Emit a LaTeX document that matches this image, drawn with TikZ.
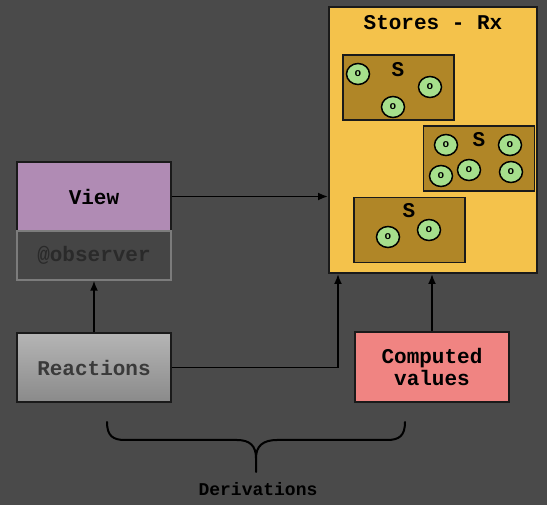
\documentclass[tikz,border=0pt]{standalone}
\usepackage{fontspec}
\setmonofont{Liberation Mono}
\usetikzlibrary{arrows.meta,calc,shapes.geometric}
\definecolor{bg}{HTML}{4A4A4A}
\definecolor{storesfill}{HTML}{F4C24B}
\definecolor{storefill}{HTML}{B08627}
\definecolor{obsfill}{HTML}{A6DF8C}
\definecolor{viewfill}{HTML}{B08BB4}
\definecolor{compfill}{HTML}{F08482}
\definecolor{observfill}{HTML}{454545}
\definecolor{observline}{HTML}{7C7C7C}
\definecolor{observtext}{HTML}{2A2A2A}
\definecolor{reacttext}{HTML}{3A3A3A}
\definecolor{reacttop}{HTML}{B5B5B5}
\definecolor{reactbot}{HTML}{8A8A8A}
\definecolor{edge}{HTML}{1A1A1A}
\begin{document}
\begin{tikzpicture}[x=1pt,y=-1pt,
  lbl/.style={font=\ttfamily\bfseries\fontsize{21}{23}\selectfont},
  box/.style={draw=edge, line width=1.4pt, inner sep=0pt, lbl, align=center},
  storebox/.style={draw=edge, line width=1.4pt, fill=storefill, minimum width=111pt, minimum height=65pt, inner sep=0pt},
  obs/.style={ellipse, draw=black, line width=1.5pt, fill=obsfill, minimum width=23pt, minimum height=21pt, inner sep=0pt, font=\ttfamily\bfseries\fontsize{11}{12}\selectfont},
  conn/.style={draw=black, line width=1.8pt, -{Latex[length=10pt,width=8pt]}}
]
\useasboundingbox[fill=bg] (0,0) rectangle (547,505);

% Stores
\node[box, fill=storesfill, line width=2pt, minimum width=208pt, minimum height=266pt] (stores) at (433,140) {};
\node[lbl] (storestitle) at (433,23) {Stores - Rx};

\node[storebox] (s1) at (398.5,87.5) {};
\node[storebox] (s2) at (479,158.5) {};
\node[storebox] (s3) at (409.5,230) {};
\node[lbl] (s1l) at (398,70) {S};
\node[lbl] (s2l) at (479,140) {S};
\node[lbl] (s3l) at (409,211) {S};

\node[obs] (o11) at (358,74) {o};
\node[obs] (o12) at (430,87) {o};
\node[obs] (o13) at (393,107) {o};
\node[obs] (o21) at (446,145) {o};
\node[obs] (o22) at (510,145) {o};
\node[obs] (o23) at (441,176) {o};
\node[obs] (o24) at (469,170) {o};
\node[obs] (o25) at (511,172) {o};
\node[obs] (o31) at (388,237) {o};
\node[obs] (o32) at (429,230) {o};

% Left column
\node[box, fill=viewfill, minimum width=154pt, minimum height=69pt] (view) at (94,196.5) {View};
\node[box, draw=observline, fill=observfill, text=observtext, minimum width=154pt, minimum height=49pt] (observer) at (94,255.5) {@observer};
\node[box, draw=edge, top color=reacttop, bottom color=reactbot, text=reacttext, minimum width=154pt, minimum height=69pt] (reactions) at (94,367.5) {Reactions};

% Computed values
\node[box, fill=compfill, minimum width=154pt, minimum height=70pt] (computed) at (432,367) {Computed\\[-1pt]values};

% Connectors
\coordinate (bend) at (338,367.5);
\draw[conn] (reactions.north) -- (observer.south);
\draw[conn] (view.east) -- (stores.west |- view.east);
\draw[conn] (reactions.east) -- (bend) -- (bend |- stores.south);
\draw[conn] (computed.north) -- (computed.north |- stores.south);

% Brace
\draw[black, line width=2pt, line cap=round, line join=round]
  (107,422) .. controls (107,436) and (113,440) .. (125,440) -- (237,440)
  .. controls (250,440) and (256,446) .. (256,458) -- (256,472)
  (256,458) .. controls (256,446) and (263,440) .. (277,440) -- (387,440)
  .. controls (399,440) and (405,436) .. (405,422);
\node[font=\ttfamily\bfseries\fontsize{18}{20}\selectfont, text=black] (deriv) at (258,489) {Derivations};
\end{tikzpicture}
\end{document}
